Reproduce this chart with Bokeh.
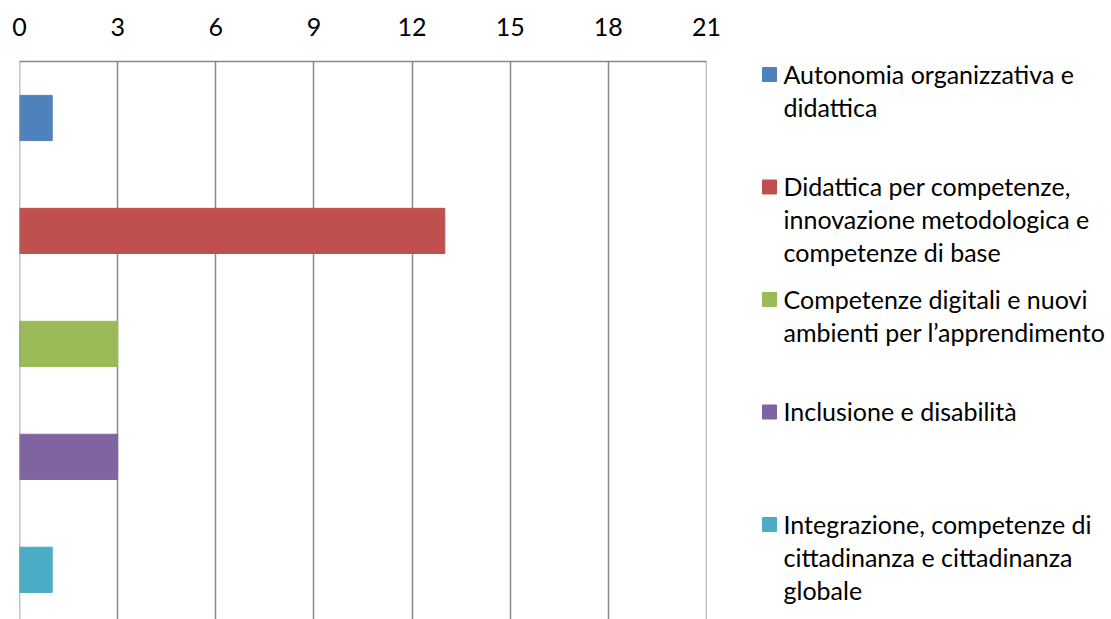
from bokeh.plotting import figure
from bokeh.layouts import row
from bokeh.models import Range1d, FixedTicker, ColumnDataSource, Span
from bokeh.core.properties import value
from bokeh.embed import file_html
from bokeh.resources import INLINE

categories = [
    "Autonomia organizzativa e\ndidattica",
    "Didattica per competenze,\ninnovazione metodologica e\ncompetenze di base",
    "Competenze digitali e nuovi\nambienti per l\u2019apprendimento",
    "Inclusione e disabilit\u00e0",
    "Integrazione, competenze di\ncittadinanza e cittadinanza\nglobale",
]
values = [1, 13, 3, 3, 1]
colors = ["#4F81BD", "#C0504D", "#9BBB59", "#8064A2", "#4BACC6"]
x_ticks = [0, 3, 6, 9, 12, 15, 18, 21]

FONT = "Lato"
FS = "25px"
GRID = "#898989"

n = len(categories)
pos = [n - 1 - i for i in range(n)]

src = ColumnDataSource(dict(y=pos, v=values, c=colors))

p = figure(width=740, height=619, output_backend="svg", toolbar_location=None,
           x_range=Range1d(x_ticks[0], x_ticks[-1]), y_range=Range1d(-0.44, n - 0.5),
           x_axis_location="above", y_axis_location=None,
           min_border_left=19, min_border_right=34, min_border_top=61,
           min_border_bottom=0)
p.hbar(y="y", left=0, right="v", height=0.4, color="c", source=src)
p.outline_line_color = None
p.background_fill_color = "white"
p.border_fill_color = "white"
ax = p.xaxis[0]
ax.ticker = FixedTicker(ticks=x_ticks)
ax.major_tick_line_color = None
ax.minor_tick_line_color = None
ax.axis_line_color = GRID
ax.axis_line_width = 1.5
ax.major_label_text_font = FONT
ax.major_label_text_font_size = FS
ax.major_label_text_color = "black"
ax.major_label_standoff = 20
p.xgrid.ticker = FixedTicker(ticks=x_ticks)
p.xgrid.grid_line_color = GRID
p.xgrid.grid_line_width = 1.5
p.ygrid.grid_line_color = None
for edge in (x_ticks[0], x_ticks[-1]):
    p.add_layout(Span(location=edge, dimension="height", line_color=GRID, line_width=1.5))

# legend as its own panel; its frame is aligned with the main frame (page y 61..619)
leg = figure(width=371, height=619, output_backend="svg", toolbar_location=None,
             x_range=Range1d(740, 1111), y_range=Range1d(619, 61),
             x_axis_location=None, y_axis_location=None,
             min_border_left=0, min_border_right=0, min_border_top=61,
             min_border_bottom=0)
leg.outline_line_color = None
leg.xgrid.grid_line_color = None
leg.ygrid.grid_line_color = None
leg.background_fill_color = "white"
leg.border_fill_color = "white"
ly = [74 + i * 112.5 for i in range(n)]
lty = [y - 16 for y in ly]
lsrc = ColumnDataSource(dict(y=ly, ty=lty, t=categories, c=colors))
leg.rect(x=769, y="y", width=14, height=14, color="c", source=lsrc)
leg.text(x=783, y="ty", text="t", source=lsrc, text_font=value(FONT),
         text_font_size=FS, text_baseline="top", text_color="black",
         text_line_height=1.1)

layout = row(p, leg)
open("out.html", "w").write(file_html(layout, INLINE))
